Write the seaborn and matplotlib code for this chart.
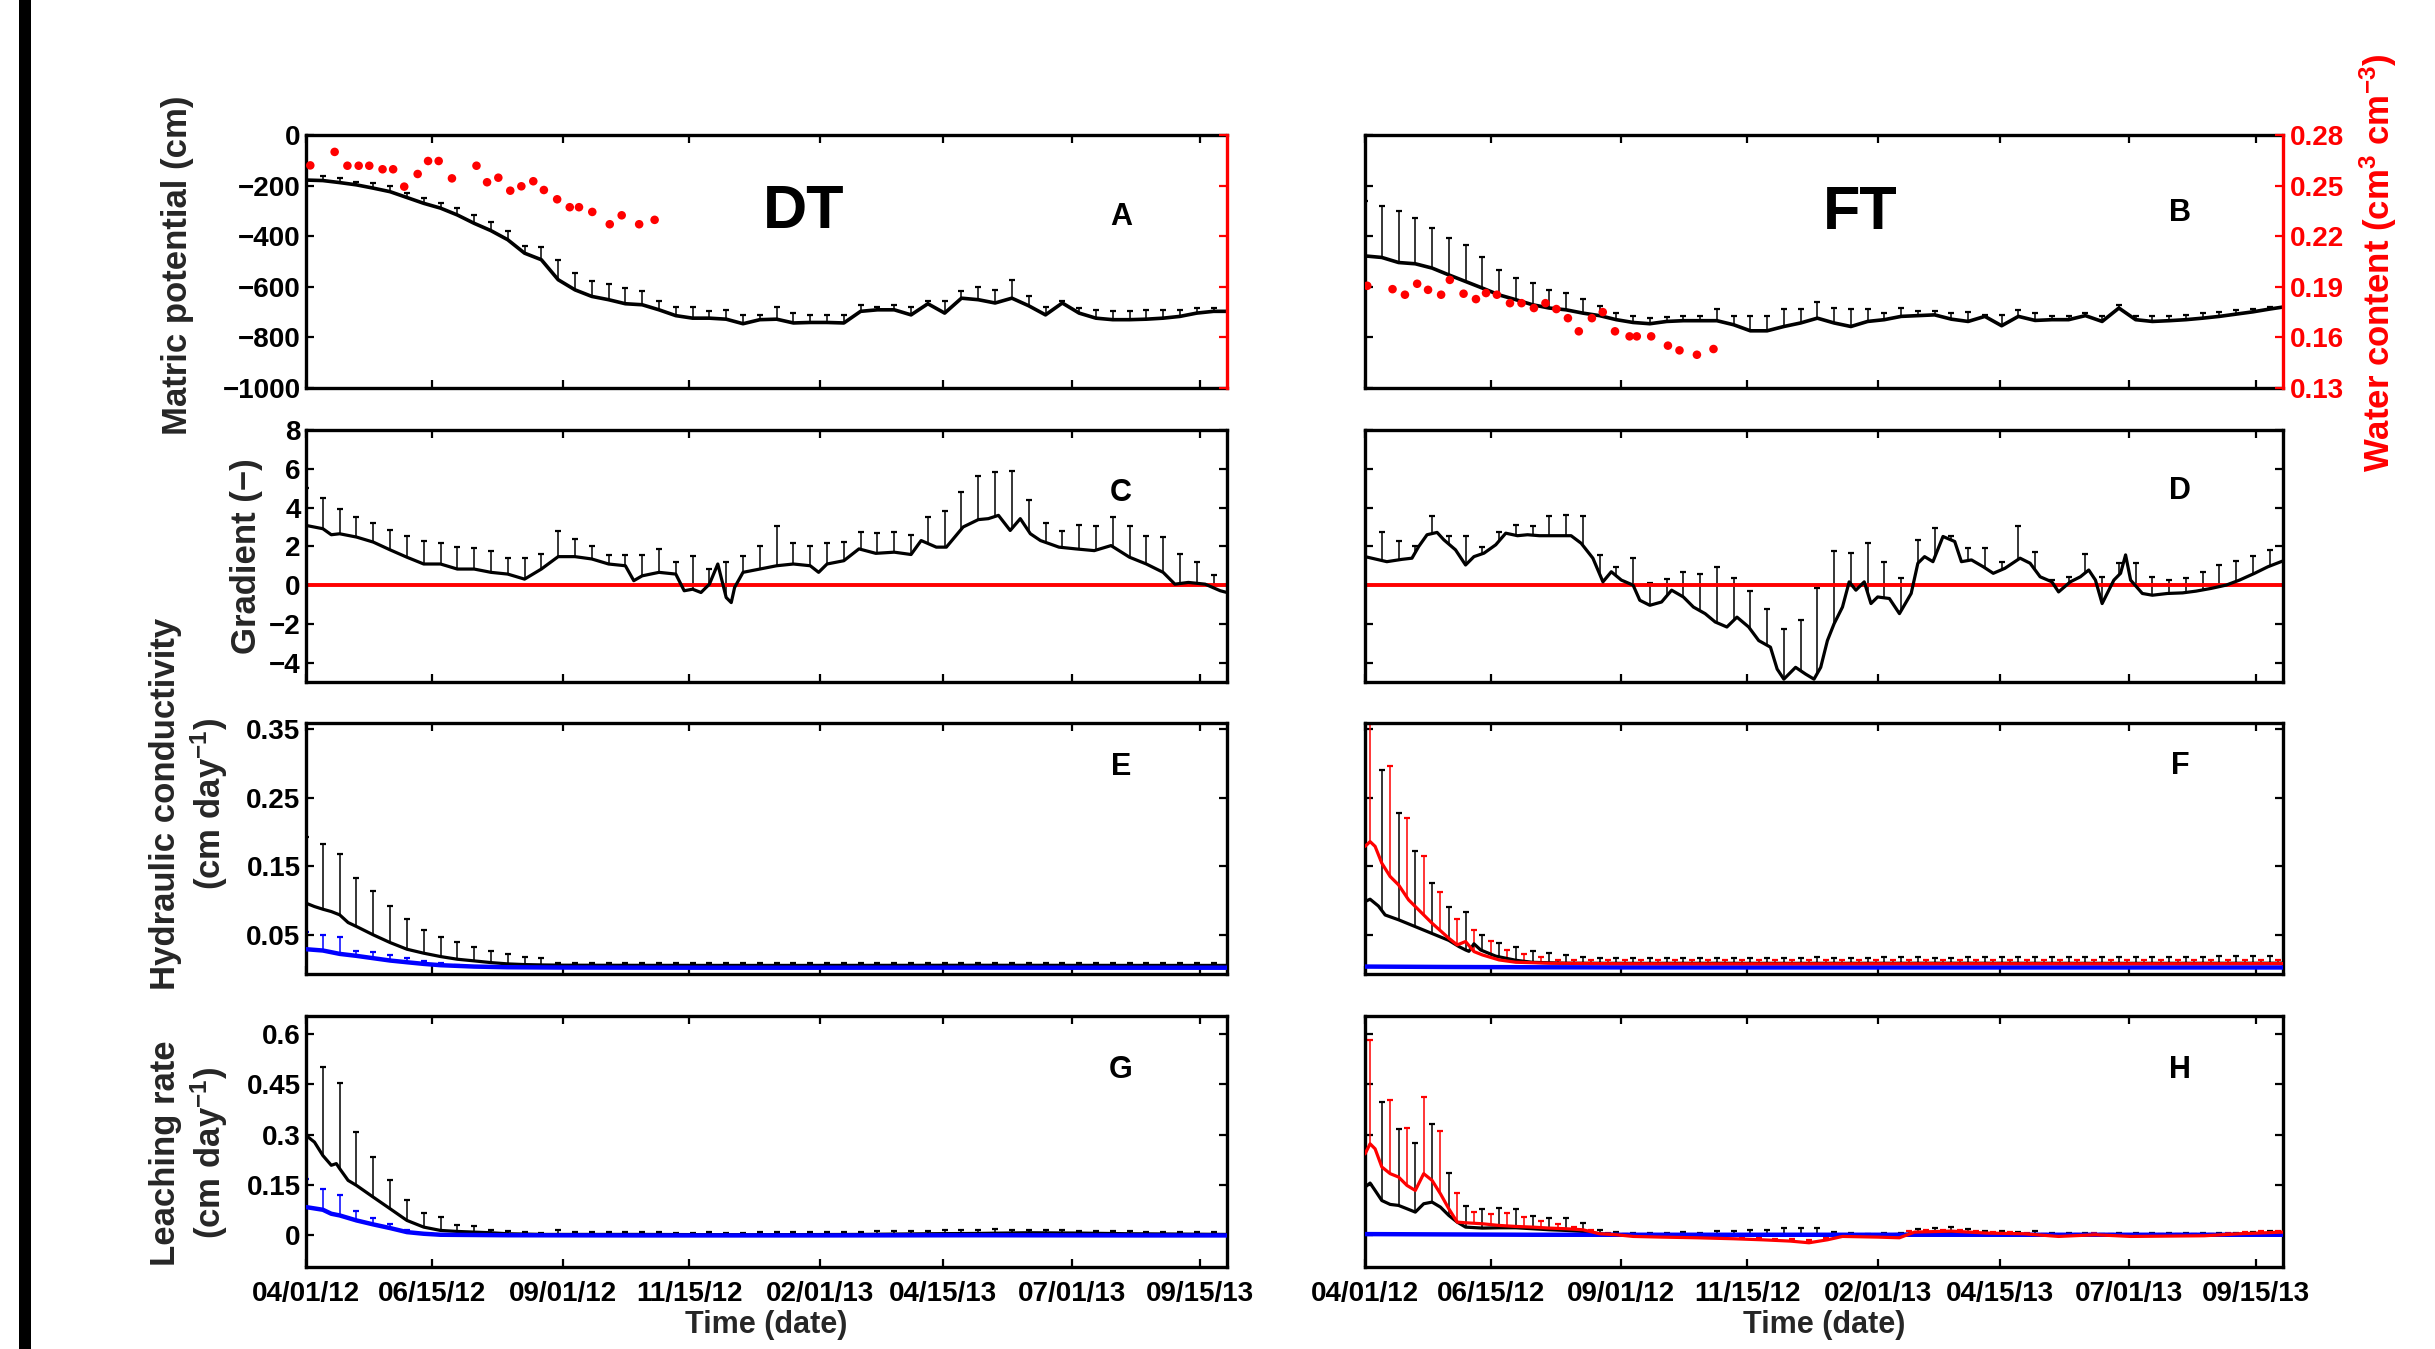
import matplotlib
matplotlib.use("Agg")
import matplotlib.pyplot as plt
import numpy as np
import pandas as pd
import seaborn as sns
from matplotlib.patches import Rectangle

nan = np.nan

START = pd.Timestamp("2012-04-01")
END = pd.Timestamp("2013-10-01")
XTICK_DATES = ["2012-04-01", "2012-06-15", "2012-09-01", "2012-11-15",
               "2013-02-01", "2013-04-15", "2013-07-01", "2013-09-15"]
XTICK_LABELS = ["04/01/12", "06/15/12", "09/01/12", "11/15/12",
                "02/01/13", "04/15/13", "07/01/13", "09/15/13"]

# days since 04/01/12 (every 10 days + end of record)
DAYS10 = list(range(0, 541, 10)) + [548]
ERR10 = list(range(10, 541, 10))

# ---- A: matric potential, DT ----
A_LINE = [-178, -180, -188, -197, -210, -224, -247, -270, -289, -316,
          -349, -378, -414, -467, -493, -572, -612, -638, -651, -667,
          -671, -691, -714, -724, -724, -728, -746, -730, -728, -743,
          -741, -741, -743, -697, -691, -691, -711, -667, -704, -645,
          -651, -664, -645, -675, -711, -664, -704, -724, -730, -730,
          -728, -724, -717, -704, -697, -697]
A_TOP = [nan, -162, -171, -184, -191, -201, -230, -250, -270, -289,
         -316, -342, -378, -438, -441, -493, -546, -579, -589, -605,
         -618, -655, -678, -678, -697, -691, -711, -711, -678, -704,
         -711, -711, -711, -671, -678, -671, -678, -658, -658, -618,
         -599, -612, -572, -638, -678, -658, -684, -693, -697, -697,
         -693, -691, -691, -684, -684, nan]
A_WC_DAYS = [2.5, 17, 24.6, 31.3, 37.6, 45.5, 51.8, 58.4, 66.4, 72.6, 78.9, 86.8,
             101.4, 107.7, 114.4, 121.5, 128.1, 135.2, 141.5, 149.4, 156.9,
             162.4, 170.3, 180.7, 187.8, 198.2, 207.4]
A_WC = [0.262, 0.270, 0.2618, 0.2618, 0.2618, 0.2597, 0.2597, 0.2494, 0.2569,
        0.2646, 0.2646, 0.2543, 0.2618, 0.252, 0.2547, 0.247, 0.2496, 0.2526,
        0.2474, 0.2419, 0.2372, 0.2372, 0.2344, 0.2271, 0.2324, 0.2271, 0.2297]

# ---- B: matric potential, FT ----
B_LINE = [-478, -484, -504, -509, -526, -553, -579, -605, -632, -651,
          -671, -684, -691, -704, -714, -730, -741, -746, -737, -734,
          -734, -734, -750, -774, -774, -757, -743, -724, -743, -757,
          -737, -730, -717, -714, -711, -728, -737, -717, -754, -717,
          -733, -730, -730, -714, -737, -684, -730, -737, -734, -730,
          -724, -717, -708, -699, -688, -680]
B_TOP = [-260, -280, -300, -329, -366, -408, -434, -484, -533, -566,
         -586, -612, -625, -649, -675, -704, -714, -724, -721, -714,
         -714, -688, -714, -714, -714, -688, -688, -662, -682, -688,
         -688, -704, -684, -697, -697, -704, -701, -711, -711, -693,
         -704, -714, -714, -704, -717, -672, -714, -717, -714, -711,
         -704, -701, -691, -688, -678, nan]
B_WC_DAYS = [1.3, 16.4, 23.8, 31.1, 37.6, 45.4, 50.6, 58.8, 66.2, 72.2, 78.7,
             86.5, 93.4, 100.8, 107.7, 114.2, 121.1, 127.6, 135.4, 141.9, 149.2,
             157.9, 162.2, 170.8, 180.8, 187.7, 198.1, 208.0]
B_WC = [0.1906, 0.1886, 0.1853, 0.1918, 0.1882, 0.1853, 0.1941, 0.1859, 0.1827,
        0.1863, 0.1853, 0.1803, 0.1803, 0.1774, 0.1803, 0.1768, 0.1714, 0.1636,
        0.1714, 0.1750, 0.1636, 0.1606, 0.1606, 0.1606, 0.1551, 0.1523, 0.1497,
        0.1531]

# ---- C: gradient, DT ----
C_DAYS = [0, 10, 15, 20, 30, 40, 50, 60, 70, 80, 90, 100, 110, 120, 130, 140, 150,
          160, 170, 180, 190, 195, 200, 210, 220, 225, 230, 235, 240, 245, 250,
          253, 255, 260, 270, 280, 290, 300, 305, 310, 320, 329, 339, 350, 360,
          366, 375, 381, 391, 400, 406, 412, 419, 425, 431, 437, 448, 458, 469,
          479, 490, 500, 510, 517, 525, 535, 544, 548]
C_VAL = [3.08, 2.91, 2.6, 2.65, 2.48, 2.22, 1.82, 1.44, 1.09, 1.09,
         0.83, 0.83, 0.66, 0.57, 0.31, 0.83, 1.47, 1.47, 1.35, 1.09,
         1.00, 0.23, 0.48, 0.66, 0.57, -0.29, -0.21, -0.38, 0.05, 1.09,
         -0.64, -0.9, -0.12, 0.66, 0.83, 1.00, 1.09, 1.00, 0.66, 1.09,
         1.26, 1.87, 1.64, 1.70, 1.58, 2.30, 1.96, 1.96, 3.00, 3.38,
         3.43, 3.60, 2.82, 3.43, 2.65, 2.30, 1.96, 1.87, 1.78, 2.04,
         1.44, 1.09, 0.66, 0.05, 0.14, 0.05, -0.29, -0.38]
C_TOP = [5.0, 4.52, 3.95, 3.52, 3.20, 2.86, 2.56, 2.27, 2.16, 1.99, 1.92,
         1.75, 1.40, 1.40, 1.61, 2.77, 2.39, 2.01, 1.58, 1.58, 1.58,
         1.87, 1.2, 1.52, 0.83, 1.18, 1.49, 2.01, 3.05, 2.16, 2.01,
         2.16, 2.22, 2.74, 2.70, 2.74, 2.60, 3.52, 3.83, 4.81, 5.63,
         5.82, 5.90, 4.38, 3.20, 2.77, 3.08, 3.03, 3.52, 3.03, 2.56,
         2.48, 1.61, 1.21, 0.52, nan]

# ---- D: gradient, FT ----
D_DAYS = [0, 4, 13, 22, 28, 32, 37, 43, 47, 54, 60, 65, 71, 78, 84, 91, 97, 104,
          110, 117, 123, 129, 136, 142, 147, 153, 160, 164, 170, 177, 183, 190,
          196, 203, 209, 216, 222, 229, 235, 242, 246, 250, 257, 263, 268, 272,
          276, 280, 285, 289, 293, 298, 302, 306, 313, 319, 326, 330, 334, 339,
          345, 352, 356, 362, 369, 375, 382, 391, 397, 403, 410, 414, 421, 427,
          432, 436, 440, 447, 451, 454, 457, 464, 470, 479, 488, 496, 505, 514,
          522, 531, 539, 548]
D_VAL = [1.47, 1.39, 1.21, 1.33, 1.39, 1.99, 2.60, 2.72, 2.34, 1.82,
         1.04, 1.47, 1.65, 2.08, 2.68, 2.55, 2.60, 2.55, 2.55, 2.55,
         2.55, 2.16, 1.39, 0.17, 0.69, 0.26, 0.00, -0.78, -1.04, -0.87,
         -0.26, -0.61, -1.13, -1.47, -1.90, -2.16, -1.65, -2.16, -2.86, -3.20,
         -4.33, -4.85, -4.24, -4.59, -4.85, -4.24, -2.86, -1.99, -1.13, 0.17,
         -0.26, 0.17, -0.95, -0.61, -0.69, -1.47, -0.43, 1.13, 1.47, 1.21,
         2.51, 2.25, 1.21, 1.30, 0.95, 0.61, 0.87, 1.39, 1.13, 0.43,
         0.17, -0.35, 0.17, 0.43, 0.78, 0.26, -0.95, 0.26, 0.61, 1.56,
         0.26, -0.43, -0.52, -0.43, -0.40, -0.31, -0.17, 0.00, 0.26, 0.61,
         0.95, 1.25]
D_TOP = [nan, 2.74, 2.29, 2.04, 3.55, 2.51, 2.55, 1.99, 2.72, 3.12,
         3.03, 3.58, 3.64, 3.55, 1.56, 0.92, 1.42, 0.12, 0.31, 0.66,
         0.55, 0.95, 0.35, -0.31, -1.21, -2.25, -1.82, -0.17, 1.78, 1.68,
         2.16, 1.21, 0.38, 2.34, 2.94, 2.51, 1.90, 1.90, 1.21, 3.03,
         1.70, 0.26, 0.43, 1.59, 0.43, 1.13, 1.13, 0.43, 0.26, 0.38,
         0.66, 1.04, 1.26, 1.51, 1.82, nan]

# ---- E: hydraulic conductivity, DT ----
E_K_DAYS = [0, 5, 10, 15, 20, 25, 30, 40, 50, 60, 70, 80, 90, 100, 110, 120, 130,
            140, 153, 200, 250, 300, 350, 400, 450, 500, 548]
E_K = [0.0962, 0.0913, 0.0874, 0.084, 0.0792, 0.068, 0.0622, 0.05, 0.0388, 0.0291,
       0.0233, 0.0184, 0.0145, 0.0121, 0.0096, 0.0077, 0.0067, 0.0062, 0.0058,
       0.0056, 0.0055, 0.0055, 0.0056, 0.0057, 0.0056, 0.0055, 0.0055]
E_K_TOP = [0.193, 0.183, 0.168, 0.1326, 0.1142, 0.0928, 0.0733, 0.0573, 0.0476, 0.0393,
           0.032, 0.0272, 0.0218, 0.0184, 0.016, 0.0095,
           0.0090, 0.0088, 0.0089, 0.0090, 0.0091, 0.0090, 0.0089, 0.0090, 0.0092, 0.0091,
           0.0090, 0.0089, 0.0090, 0.0091, 0.0090, 0.0092, 0.0093, 0.0094, 0.0093, 0.0092,
           0.0091, 0.0090, 0.0090, 0.0091, 0.0092, 0.0091, 0.0090, 0.0090, 0.0091, 0.0092,
           0.0091, 0.0090, 0.0089, 0.0090, 0.0091, 0.0090, 0.0091, 0.0092, 0.0093, nan]
E_B_DAYS = [0, 10, 20, 30, 40, 50, 60, 70, 80, 90, 100, 120, 150, 200, 250, 300,
            350, 400, 450, 500, 548]
E_B = [0.0291, 0.0272, 0.0223, 0.0194, 0.016, 0.0126, 0.0101, 0.0077, 0.0058, 0.0048,
       0.0038, 0.0028, 0.0024, 0.0022, 0.0021, 0.0021, 0.0022, 0.0022, 0.0021, 0.0021,
       0.0021]
E_B_ERR_DAYS = [0, 10, 20, 30, 40, 50, 60, 70, 80, 90]
E_B_TOP = [0.0549, 0.05, 0.0466, 0.0272, 0.0247, 0.0208, 0.016, 0.0121, 0.0087, 0.0062]

# ---- F: hydraulic conductivity, FT ----
F_K_DAYS = [0, 3, 8, 12, 20, 30, 40, 50, 56, 60, 62, 65, 69, 78, 90, 100, 120, 160,
            200, 250, 300, 350, 400, 450, 500, 548]
F_K = [0.0986, 0.102, 0.092, 0.079, 0.072, 0.062, 0.052, 0.042, 0.033, 0.028,
       0.026, 0.037, 0.028, 0.019, 0.013, 0.010, 0.0087, 0.0085, 0.0086, 0.0085,
       0.0086, 0.0087, 0.0086, 0.0085, 0.0086, 0.0087]
F_K_TOP = [0.2897, 0.2284, 0.173, 0.1254, 0.0904, 0.084, 0.05, 0.0388, 0.032, 0.0272,
           0.0233, 0.0208, 0.0184, 0.017,
           0.0160, 0.0158, 0.0160, 0.0162, 0.0160, 0.0158, 0.0160, 0.0165, 0.0170, 0.0168,
           0.0165, 0.0170, 0.0172, 0.0170, 0.0168, 0.0170, 0.0172, 0.0175, 0.0172, 0.0170,
           0.0170, 0.0172, 0.0175, 0.0178, 0.0175, 0.0172, 0.0175, 0.0178, 0.0180, 0.0178,
           0.0180, 0.0182, 0.0180, 0.0178, 0.0180, 0.0182, 0.0185, 0.0188, 0.0190, 0.0192]
F_R_DAYS = [0, 3, 6, 10, 15, 20, 26, 30, 40, 50, 55, 60, 65, 70, 80, 90, 110, 150,
            200, 250, 300, 350, 400, 450, 500, 548]
F_R = [0.179, 0.186, 0.179, 0.1545, 0.135, 0.1229, 0.101, 0.0913, 0.067, 0.0451,
       0.0354, 0.0403, 0.0257, 0.0208, 0.0135, 0.0101, 0.0087, 0.0080, 0.0078, 0.0078,
       0.0079, 0.0080, 0.0080, 0.0079, 0.0080, 0.0082]
F_R_ERR_DAYS = [3, 15, 25, 35, 45, 55, 65, 75, 85, 95, 105] + list(range(115, 546, 10))
F_R_TOP = [0.358, 0.296, 0.2197, 0.1657, 0.1132, 0.0728, 0.0573, 0.0417, 0.0281, 0.0218,
           0.0184,
           0.0140, 0.0135, 0.0132, 0.0130, 0.0130, 0.0128, 0.0130, 0.0132, 0.0130, 0.0128,
           0.0130, 0.0132, 0.0130, 0.0128, 0.0130, 0.0131, 0.0130, 0.0128, 0.0130, 0.0132,
           0.0130, 0.0129, 0.0130, 0.0132, 0.0131, 0.0130, 0.0129, 0.0130, 0.0132, 0.0130,
           0.0131, 0.0130, 0.0129, 0.0130, 0.0132, 0.0131, 0.0130, 0.0129, 0.0130, 0.0132,
           0.0133, 0.0134, 0.0135, 0.0136]
F_B_DAYS = [0, 50, 100, 150, 200, 250, 300, 350, 400, 450, 500, 548]
F_B = [0.0038, 0.0032, 0.0028, 0.0026, 0.0025, 0.0025, 0.0025, 0.0025, 0.0025,
       0.0025, 0.0025, 0.0025]

# ---- G: leaching rate, DT ----
G_K_DAYS = [0, 5, 10, 15, 18, 20, 25, 30, 40, 50, 60, 70, 80, 90, 100, 110, 120,
            141, 200, 260, 330, 370, 400, 430, 460, 490, 520, 548]
G_K = [0.298, 0.278, 0.238, 0.209, 0.214, 0.199, 0.164, 0.149, 0.114, 0.0795,
       0.0447, 0.0248, 0.0149, 0.0119, 0.0099, 0.008, 0.005, 0.003, 0.003, 0.002,
       0.003, 0.005, 0.006, 0.008, 0.007, 0.005, 0.004, 0.003]
G_K_TOP = [0.5016, 0.455, 0.308, 0.2334, 0.164, 0.1043, 0.0675, 0.0546, 0.0318, 0.0278,
           0.0169, 0.0129, 0.0099, 0.008, 0.0149,
           0.010, 0.010, 0.009, 0.010, 0.010, 0.009, 0.008, 0.008, 0.009, 0.008,
           0.008, 0.009, 0.009, 0.009, 0.010, 0.010, 0.010, 0.011, 0.012, 0.012,
           0.013, 0.014, 0.015, 0.016, 0.017, 0.018, 0.017, 0.017, 0.016, 0.015,
           0.014, 0.013, 0.012, 0.012, 0.011, 0.010, 0.010, 0.009, 0.009]
G_B_DAYS = [0, 10, 15, 20, 30, 40, 50, 60, 70, 80, 120, 200, 300, 400, 500, 548]
G_B = [0.0844, 0.0765, 0.0646, 0.0596, 0.0447, 0.0328, 0.0219, 0.0099, 0.005, 0.002,
       0.0005, 0.0, 0.0, 0.0005, 0.0, 0.0]
G_B_ERR_DAYS = [0, 10, 20, 30, 40, 50, 60]
G_B_TOP = [0.169, 0.139, 0.119, 0.0715, 0.0517, 0.0328, 0.0169]

# ---- H: leaching rate, FT ----
H_K_DAYS = [0, 3, 6, 10, 15, 20, 25, 30, 35, 40, 45, 50, 55, 60, 70, 80, 90, 100,
            110, 120, 130, 140, 150, 200, 250, 300, 330, 350, 380, 420, 480, 548]
H_K = [0.144, 0.156, 0.134, 0.104, 0.0924, 0.0894, 0.0795, 0.0695, 0.0944, 0.0993,
       0.0844, 0.0596, 0.0397, 0.0248, 0.0219, 0.0228, 0.0228, 0.0199, 0.0169, 0.0149,
       0.0119, 0.005, 0.002, 0.001, 0.001, 0.001, 0.004, 0.006, 0.003, 0.001,
       0.001, 0.002]
H_K_TOP = [0.397, 0.316, 0.276, 0.331, 0.186, 0.0874, 0.0775, 0.0824, 0.0775, 0.0576,
           0.0526, 0.0526, 0.0377,
           0.015, 0.010, 0.008, 0.008, 0.008, 0.009, 0.008, 0.012, 0.013, 0.015,
           0.017, 0.022, 0.022, 0.022, 0.010, 0.006, 0.005, 0.006, 0.008, 0.018,
           0.022, 0.024, 0.018, 0.014, 0.012, 0.010, 0.012, 0.008, 0.006, 0.006,
           0.005, 0.006, 0.007, 0.006, 0.006, 0.007, 0.007, 0.008, 0.008, 0.010, 0.012]
H_R_DAYS = [0, 3, 6, 10, 15, 20, 25, 30, 35, 40, 45, 50, 55, 60, 70, 80, 90, 100,
            110, 120, 130, 140, 150, 160, 177, 198, 220, 237, 254, 265, 276, 285,
            306, 319, 328, 350, 371, 393, 414, 436, 457, 501, 522, 548]
H_R = [0.243, 0.273, 0.258, 0.204, 0.184, 0.174, 0.149, 0.134, 0.184, 0.164,
       0.124, 0.0795, 0.0397, 0.0377, 0.0348, 0.0298, 0.0268, 0.0248, 0.0219, 0.0199,
       0.0169, 0.005, 0.002, -0.003, -0.005, -0.007, -0.0099, -0.013, -0.0169, -0.0219,
       -0.013, -0.003, -0.005, -0.007, 0.0099, 0.0129, 0.007, 0.005, -0.003, 0.002,
       -0.003, -0.001, 0.005, 0.0099]
H_R_ERR_DAYS = [3, 15, 25, 35, 45, 55, 65, 75, 85, 95, 105, 115, 125] + list(range(135, 546, 10))
H_R_TOP = [0.583, 0.405, 0.32, 0.412, 0.31, 0.126, 0.0695, 0.0646, 0.0675, 0.0546,
           0.0427, 0.0348, 0.0248,
           0.015, 0.008, 0.005, 0.0, -0.001, -0.002, -0.003, -0.004, -0.005, -0.007,
           -0.009, -0.010, -0.012, -0.015, -0.008, 0.001, 0.0, -0.001, -0.002, 0.012,
           0.016, 0.017, 0.016, 0.012, 0.010, 0.009, 0.008, 0.004, 0.001, 0.004,
           0.006, 0.003, 0.001, 0.002, 0.003, 0.003, 0.003, 0.004, 0.007, 0.009,
           0.012, 0.014]
H_B_DAYS = [0, 50, 100, 150, 200, 250, 300, 350, 400, 450, 500, 548]
H_B = [0.004, 0.003, 0.002, 0.002, 0.002, 0.002, 0.002, 0.002, 0.002, 0.002,
       0.002, 0.002]

A_YTICKS = [0, -200, -400, -600, -800, -1000]
WC_YTICKS = [0.13, 0.16, 0.19, 0.22, 0.25, 0.28]
WC_YTICKLABELS = ["0.13", "0.16", "0.19", "0.22", "0.25", "0.28"]
C_YTICKS = [-4, -2, 0, 2, 4, 6, 8]
E_YTICKS = [0.05, 0.15, 0.25, 0.35]
E_YTICKLABELS = ["0.05", "0.15", "0.25", "0.35"]
G_YTICKS = [0, 0.15, 0.3, 0.45, 0.6]
G_YTICKLABELS = ["0", "0.15", "0.3", "0.45", "0.6"]

RED = "#ff0000"
BLUE = "#0000ff"
FONT = ["Liberation Sans", "DejaVu Sans"]

sns.set_theme(style="ticks")
plt.rcParams["font.family"] = FONT
plt.rcParams["font.weight"] = "bold"
plt.rcParams["axes.labelweight"] = "bold"
plt.rcParams["mathtext.fontset"] = "custom"
plt.rcParams["mathtext.rm"] = "Liberation Sans:bold"
plt.rcParams["mathtext.bf"] = "Liberation Sans:bold"
plt.rcParams["mathtext.default"] = "bf"
plt.rcParams["axes.unicode_minus"] = True


def to_dates(days):
    return START + pd.to_timedelta(np.asarray(days, dtype=float), unit="D")


def draw_line(ax, days, vals, color, lw=2.3):
    df = pd.DataFrame({"date": to_dates(days), "value": vals})
    sns.lineplot(data=df, x="date", y="value", ax=ax, color=color, linewidth=lw,
                 estimator=None, sort=False, legend=False, zorder=3)


def draw_err(ax, line_days, line_vals, err_days, tops, color):
    # upper-only error bars starting at the mean line
    tops = np.asarray(tops, dtype=float)
    err_days = np.asarray(err_days, dtype=float)
    keep = ~np.isnan(tops)
    base = np.interp(err_days[keep], line_days, line_vals)
    tops = np.maximum(tops[keep], base)
    d = to_dates(err_days[keep])
    ax.vlines(d, base, tops, color=color, linewidth=1.1, zorder=2)
    ax.plot(d, tops, ls="none", marker="_", ms=5, mew=1.6, color=color, zorder=2)


def style_axes(ax, bottom_labels, left_labels, yticks, ylim, yticklabels=None):
    ax.set_xlim(START, END)
    ax.set_xticks(pd.to_datetime(XTICK_DATES))
    ax.set_xticklabels(XTICK_LABELS)
    ax.set_ylim(*ylim)
    ax.set_yticks(yticks)
    if yticklabels is not None:
        ax.set_yticklabels(yticklabels)
    ax.set_xlabel("")
    ax.set_ylabel("")
    ax.tick_params(direction="in", length=6, width=1.6, top=True, right=True,
                   labelsize=20, labelcolor="black", color="black")
    ax.tick_params(axis="x", pad=10, labelbottom=bottom_labels)
    ax.tick_params(axis="y", pad=4, labelleft=left_labels)
    for lab in ax.get_xticklabels() + ax.get_yticklabels():
        lab.set_fontweight("bold")
    for s in ax.spines.values():
        s.set_linewidth(2.4)
        s.set_color("black")
    ax.set_facecolor("white")
    ax.grid(False)


def water_twin(ax, days, vals, show_labels):
    ax.spines["right"].set_visible(False)
    ax.tick_params(right=False)
    ax2 = ax.twinx()
    sns.scatterplot(x=to_dates(days), y=vals, ax=ax2, color=RED, s=38,
                    edgecolor="none", legend=False, zorder=4)
    ax2.set_ylim(0.13, 0.28)
    ax2.set_yticks(WC_YTICKS)
    ax2.set_yticklabels(WC_YTICKLABELS)
    ax2.set_ylabel("")
    ax2.grid(False)
    ax2.tick_params(axis="y", direction="in", length=6, width=1.6, colors=RED,
                    labelsize=20, pad=5, labelright=show_labels)
    for lab in ax2.get_yticklabels():
        lab.set_fontweight("bold")
    for s in ["left", "top", "bottom"]:
        ax2.spines[s].set_visible(False)
    ax2.spines["right"].set_color(RED)
    ax2.spines["right"].set_linewidth(2.4)
    return ax2


def letter(ax, x, y, txt, size=22):
    ax.text(x, y, txt, transform=ax.transAxes, fontsize=size, fontweight="bold",
            ha="center", va="center", color="black", zorder=6)


fig = plt.figure(figsize=(24.35, 13.49), dpi=100)
fig.patch.set_facecolor("white")

LEFT_X, RIGHT_X = 0.1257, 0.5606
LEFT_W, RIGHT_W = 0.3782, 0.3770
ROWS = [(0.7124, 0.1875), (0.4944, 0.1868), (0.2780, 0.1861), (0.0608, 0.1861)]

axA = fig.add_axes([LEFT_X, ROWS[0][0], LEFT_W, ROWS[0][1]])
axB = fig.add_axes([RIGHT_X, ROWS[0][0], RIGHT_W, ROWS[0][1]])
axC = fig.add_axes([LEFT_X, ROWS[1][0], LEFT_W, ROWS[1][1]])
axD = fig.add_axes([RIGHT_X, ROWS[1][0], RIGHT_W, ROWS[1][1]])
axE = fig.add_axes([LEFT_X, ROWS[2][0], LEFT_W, ROWS[2][1]])
axF = fig.add_axes([RIGHT_X, ROWS[2][0], RIGHT_W, ROWS[2][1]])
axG = fig.add_axes([LEFT_X, ROWS[3][0], LEFT_W, ROWS[3][1]])
axH = fig.add_axes([RIGHT_X, ROWS[3][0], RIGHT_W, ROWS[3][1]])

# A / B: matric potential + water content
draw_err(axA, DAYS10, A_LINE, DAYS10, A_TOP, "black")
draw_line(axA, DAYS10, A_LINE, "black", lw=2.6)
style_axes(axA, False, True, A_YTICKS, (-1000, 0))
water_twin(axA, A_WC_DAYS, A_WC, False)
letter(axA, 0.54, 0.694, "DT", size=44)
letter(axA, 0.885, 0.676, "A")

draw_err(axB, DAYS10, B_LINE, DAYS10, B_TOP, "black")
draw_line(axB, DAYS10, B_LINE, "black", lw=2.6)
style_axes(axB, False, False, A_YTICKS, (-1000, 0))
water_twin(axB, B_WC_DAYS, B_WC, True)
letter(axB, 0.539, 0.69, "FT", size=44)
letter(axB, 0.888, 0.69, "B")

# C / D: gradient
for ax, days, vals, tops, lbl, lx, ly, left in [
        (axC, C_DAYS, C_VAL, C_TOP, "C", 0.885, 0.75, True),
        (axD, D_DAYS, D_VAL, D_TOP, "D", 0.888, 0.76, False)]:
    ax.axhline(0, color=RED, linewidth=2.8, zorder=2.5)
    draw_err(ax, days, vals, DAYS10, tops, "black")
    draw_line(ax, days, vals, "black")
    style_axes(ax, False, left, C_YTICKS, (-5, 8))
    letter(ax, lx, ly, lbl)

# E / F: hydraulic conductivity
draw_err(axE, E_K_DAYS, E_K, DAYS10, E_K_TOP, "black")
draw_err(axE, E_B_DAYS, E_B, E_B_ERR_DAYS, E_B_TOP, BLUE)
draw_line(axE, E_K_DAYS, E_K, "black")
draw_line(axE, E_B_DAYS, E_B, BLUE, lw=3.2)
style_axes(axE, False, True, E_YTICKS, (-0.007, 0.359), E_YTICKLABELS)
letter(axE, 0.885, 0.825, "E")

draw_err(axF, F_K_DAYS, F_K, ERR10, F_K_TOP, "black")
draw_err(axF, F_R_DAYS, F_R, F_R_ERR_DAYS, F_R_TOP, RED)
draw_line(axF, F_K_DAYS, F_K, "black")
draw_line(axF, F_B_DAYS, F_B, BLUE, lw=3.2)
draw_line(axF, F_R_DAYS, F_R, RED)
style_axes(axF, False, False, E_YTICKS, (-0.007, 0.359), E_YTICKLABELS)
letter(axF, 0.888, 0.83, "F")

# G / H: leaching rate
draw_err(axG, G_K_DAYS, G_K, ERR10, G_K_TOP, "black")
draw_err(axG, G_B_DAYS, G_B, G_B_ERR_DAYS, G_B_TOP, BLUE)
draw_line(axG, G_K_DAYS, G_K, "black")
draw_line(axG, G_B_DAYS, G_B, BLUE, lw=3.2)
style_axes(axG, True, True, G_YTICKS, (-0.094, 0.654), G_YTICKLABELS)
letter(axG, 0.885, 0.785, "G")

draw_err(axH, H_K_DAYS, H_K, ERR10, H_K_TOP, "black")
draw_err(axH, H_R_DAYS, H_R, H_R_ERR_DAYS, H_R_TOP, RED)
draw_line(axH, H_K_DAYS, H_K, "black")
draw_line(axH, H_B_DAYS, H_B, BLUE, lw=3.2)
draw_line(axH, H_R_DAYS, H_R, RED)
style_axes(axH, True, False, G_YTICKS, (-0.094, 0.654), G_YTICKLABELS)
letter(axH, 0.888, 0.785, "H")

for ax in (axG, axH):
    ax.set_xlabel("Time (date)", fontsize=22, fontweight="bold", labelpad=2)

# y-axis titles
lab_kw = dict(rotation=90, ha="center", va="center", fontsize=25,
              fontweight="bold", multialignment="center")
fig.text(0.0731, 0.8036, "Matric potential (cm)", **lab_kw)
fig.text(0.1014, 0.5878, "Gradient (\u2212)", **lab_kw)
fig.text(0.078, 0.404, "Hydraulic conductivity\n(cm day$^{-1}$)", **lab_kw)
fig.text(0.078, 0.1453, "Leaching rate\n(cm day$^{-1}$)", **lab_kw)
fig.text(0.9766, 0.805, "Water content (cm$^{3}$ cm$^{-3}$)", color=RED, **lab_kw)

# black frame edge on the left of the page
fig.add_artist(Rectangle((19 / 2435, 0), 12 / 2435, 1, transform=fig.transFigure,
                         facecolor="black", edgecolor="none"))

fig.savefig("out.png", dpi=100, facecolor="white")
